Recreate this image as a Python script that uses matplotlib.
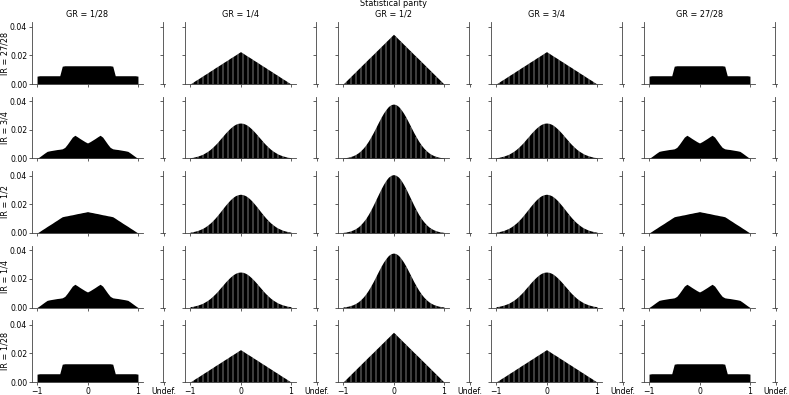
import numpy as np
import matplotlib
matplotlib.use('Agg')
import matplotlib.pyplot as plt

# statistical parity values, 0.05 apart
sp_values = np.round(np.linspace(-1, 1, 41), 2)

gr_labels = ['1/28', '1/4', '1/2', '3/4', '27/28']
ir_labels = ['27/28', '3/4', '1/2', '1/4', '1/28']

# heights in units of 1e-3, from -1 to 1
ir_extreme_gr_extreme = [5.5, 5.8, 5.8, 5.8, 5.8, 5.8, 5.8, 5.8, 5.8, 5.8, 12.5,
                         12.8, 12.8, 12.8, 12.8, 12.8, 12.8, 12.8, 12.8, 12.8, 12.8,
                         12.8, 12.8, 12.8, 12.8, 12.8, 12.8, 12.8, 12.8, 12.8, 12.5,
                         5.8, 5.8, 5.8, 5.8, 5.8, 5.8, 5.8, 5.8, 5.8, 5.5]
ir_extreme_gr_quarter = [0, 1.1, 2.3, 3.4, 4.5, 5.7, 6.8, 7.9, 9.1, 10.2, 11.4,
                         12.5, 13.6, 14.8, 15.9, 17.0, 18.2, 19.3, 20.4, 21.6, 22.7,
                         21.6, 20.4, 19.3, 18.2, 17.0, 15.9, 14.8, 13.6, 12.5, 11.4,
                         10.2, 9.1, 7.9, 6.8, 5.7, 4.5, 3.4, 2.3, 1.1, 0]
ir_extreme_gr_half = [0, 1.7, 3.5, 5.2, 7.0, 8.7, 10.5, 12.2, 14.0, 15.7, 17.5,
                      19.2, 20.9, 22.7, 24.4, 26.2, 27.9, 29.7, 31.4, 33.2, 34.9,
                      33.2, 31.4, 29.7, 27.9, 26.2, 24.4, 22.7, 20.9, 19.2, 17.5,
                      15.7, 14.0, 12.2, 10.5, 8.7, 7.0, 5.2, 3.5, 1.7, 0]
ir_quarter_gr_extreme = [0, 1.2, 2.5, 3.8, 5.0, 5.4, 5.7, 6.0, 6.3, 6.5, 6.8,
                         7.8, 10.0, 12.5, 15.0, 16.3, 15.2, 14.0, 12.9, 11.8, 10.9,
                         11.8, 12.9, 14.0, 15.2, 16.3, 15.0, 12.5, 10.0, 7.8, 6.8,
                         6.5, 6.3, 6.0, 5.7, 5.4, 5.0, 3.8, 2.5, 1.2, 0]
ir_quarter_gr_quarter = [0.6, 0.8, 1.2, 1.7, 2.3, 3.0, 4.0, 5.1, 6.4, 8.0, 9.7,
                         11.6, 13.7, 15.7, 17.8, 19.7, 21.4, 22.9, 24.0, 24.7, 24.9,
                         24.7, 24.0, 22.9, 21.4, 19.7, 17.8, 15.7, 13.7, 11.6, 9.7,
                         8.0, 6.4, 5.1, 4.0, 3.0, 2.3, 1.7, 1.2, 0.8, 0.6]
ir_quarter_gr_half = [0.4, 0.6, 0.9, 1.4, 2.0, 2.9, 4.0, 5.5, 7.3, 9.5, 12.1,
                      15.1, 18.3, 21.8, 25.3, 28.7, 31.8, 34.4, 36.5, 37.8, 38.2,
                      37.8, 36.5, 34.4, 31.8, 28.7, 25.3, 21.8, 18.3, 15.1, 12.1,
                      9.5, 7.3, 5.5, 4.0, 2.9, 2.0, 1.4, 0.9, 0.6, 0.4]
ir_half_gr_extreme = [0, 1.1, 2.3, 3.4, 4.6, 5.7, 6.8, 8.0, 9.1, 10.3, 11.4,
                      11.8, 12.1, 12.5, 12.8, 13.2, 13.6, 13.9, 14.3, 14.6, 15.0,
                      14.6, 14.3, 13.9, 13.6, 13.2, 12.8, 12.5, 12.1, 11.8, 11.4,
                      10.3, 9.1, 8.0, 6.8, 5.7, 4.6, 3.4, 2.3, 1.1, 0]
ir_half_gr_quarter = [0.6, 0.9, 1.3, 1.8, 2.5, 3.3, 4.3, 5.6, 7.0, 8.7, 10.6,
                      12.7, 14.9, 17.2, 19.4, 21.5, 23.4, 25.0, 26.2, 26.9, 27.2,
                      26.9, 26.2, 25.0, 23.4, 21.5, 19.4, 17.2, 14.9, 12.7, 10.6,
                      8.7, 7.0, 5.6, 4.3, 3.3, 2.5, 1.8, 1.3, 0.9, 0.6]
ir_half_gr_half = [0.4, 0.7, 1.0, 1.5, 2.2, 3.1, 4.3, 5.9, 7.9, 10.2, 13.0,
                   16.2, 19.7, 23.4, 27.1, 30.8, 34.1, 37.0, 39.2, 40.5, 41.0,
                   40.5, 39.2, 37.0, 34.1, 30.8, 27.1, 23.4, 19.7, 16.2, 13.0,
                   10.2, 7.9, 5.9, 4.3, 3.1, 2.2, 1.5, 1.0, 0.7, 0.4]

# the grid is symmetric: rows 1/5 and 2/4, columns 1/5 and 2/4 repeat
panel_rows = [
    [ir_extreme_gr_extreme, ir_extreme_gr_quarter, ir_extreme_gr_half],
    [ir_quarter_gr_extreme, ir_quarter_gr_quarter, ir_quarter_gr_half],
    [ir_half_gr_extreme, ir_half_gr_quarter, ir_half_gr_half],
]
row_index = [0, 1, 2, 1, 0]
col_index = [0, 1, 2, 1, 0]

FS = 5.9
TICK_FS = 5.6
plt.rcParams['font.size'] = FS
W, H = 789, 395
fig = plt.figure(figsize=(W / 100, H / 100), dpi=100)


def px_axes(left, top, w, h):
    return fig.add_axes([left / W, 1 - (top + h) / H, w / W, h / H])


def style(ax):
    for s in ('top', 'right'):
        ax.spines[s].set_visible(False)
    for s in ('left', 'bottom'):
        ax.spines[s].set_linewidth(0.6)
        ax.spines[s].set_color('#444444')
    ax.tick_params(length=2.5, width=0.6, color='#444444', pad=1.0, labelsize=TICK_FS)


for r in range(5):
    top = 22 + 74.5 * r
    for c in range(5):
        left = 32 + 153 * c
        ax = px_axes(left, top, 111, 62)
        style(ax)
        heights = np.array(panel_rows[row_index[r]][col_index[c]]) / 1000
        ax.fill_between(sp_values, heights, color='black', linewidth=0)
        if c not in (0, 4):
            # thin gaps between neighbouring histogram bars
            ax.vlines(sp_values[1::2], 0, heights[1::2], color='white', linewidth=0.35)
        ax.set_xlim(-1.1, 1.1)
        ax.set_ylim(0, 0.0435)
        ax.set_xticks([-1, 0, 1])
        ax.set_yticks([0, 0.02, 0.04])
        if r < 4:
            ax.set_xticklabels([])
        if c == 0:
            ax.set_yticklabels(['0.00', '0.02', '0.04'])
            ax.set_ylabel('IR = ' + ir_labels[r], fontsize=FS)
            ax.yaxis.set_label_coords(-0.2, 0.5)
        else:
            ax.set_yticklabels([])
        if r == 0:
            t = 'GR = ' + gr_labels[c]
            if c == 2:
                t = 'Statistical parity\n' + t
            ax.set_title(t, fontsize=FS, pad=4)

        side = px_axes(left + 131, top, 1.5, 62)
        style(side)
        side.set_xlim(-1, 1)
        side.set_ylim(0, 0.0435)
        side.set_xticks([0])
        side.set_yticks([0, 0.02, 0.04])
        side.set_yticklabels([])
        if r == 4:
            side.set_xticklabels(['Undef.'])
        else:
            side.set_xticklabels([])

fig.savefig('out.png', dpi=100)
